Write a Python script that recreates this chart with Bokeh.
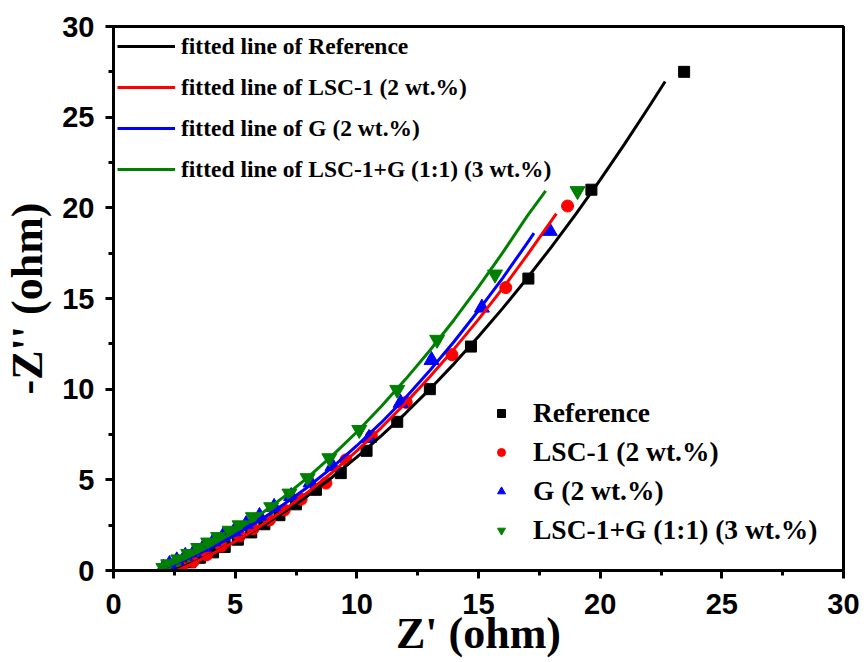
from bokeh.plotting import figure
from bokeh.models import Legend, LegendItem, FixedTicker, Range1d
from bokeh.embed import file_html
from bokeh.resources import INLINE

# ---- data (Z', -Z'') ----
ref_z1 = [2.45, 2.73, 3.14, 3.55, 4.09, 4.57, 5.11, 5.66, 6.20, 6.82, 7.50, 8.32, 9.34, 10.40, 11.66, 13.00, 14.69, 17.05, 19.64, 23.45]
ref_z2 = [0.05, 0.22, 0.45, 0.70, 1.00, 1.30, 1.70, 2.10, 2.55, 3.05, 3.65, 4.45, 5.37, 6.60, 8.20, 10.00, 12.35, 16.10, 21.00, 27.50]

lsc_z1 = [2.55, 2.80, 3.27, 3.82, 4.43, 5.18, 5.73, 6.41, 7.02, 7.71, 8.73, 9.55, 10.60, 12.03, 13.91, 16.12, 18.66]
lsc_z2 = [0.12, 0.21, 0.49, 0.86, 1.35, 1.90, 2.30, 2.79, 3.34, 3.93, 4.82, 6.10, 7.40, 9.27, 11.90, 15.60, 20.10]

g_z1 = [2.05, 2.30, 2.60, 2.95, 3.30, 3.70, 4.10, 4.50, 4.95, 5.45, 6.00, 6.60, 7.30, 8.10, 9.00, 10.50, 11.80, 13.07, 15.14, 17.93]
g_z2 = [0.15, 0.35, 0.55, 0.80, 1.00, 1.30, 1.60, 1.90, 2.15, 2.55, 3.00, 3.50, 4.10, 4.85, 5.75, 7.30, 9.24, 11.60, 14.49, 18.72]

mix_z1 = [2.05, 2.25, 2.66, 3.07, 3.48, 3.89, 4.30, 4.77, 5.18, 5.73, 6.48, 7.23, 7.98, 8.87, 10.10, 11.66, 13.30, 15.68, 19.07]
mix_z2 = [0.15, 0.35, 0.62, 0.92, 1.25, 1.55, 1.85, 2.20, 2.50, 2.95, 3.50, 4.25, 5.10, 6.20, 7.76, 9.97, 12.73, 16.33, 20.93]

fit_ref_x = [2.5, 3, 4, 5, 6, 7, 8, 9, 10, 11, 12, 13, 14, 15, 16, 17, 18, 19, 20, 21, 22, 22.67]
fit_ref_y = [0.0, 0.28, 0.89, 1.59, 2.36, 3.21, 4.14, 5.16, 6.25, 7.42, 8.67, 10.0, 11.41, 12.90, 14.47, 16.12, 17.85, 19.65, 21.54, 23.51, 25.56, 26.97]
fit_lsc_x = [2.6, 3, 4, 5, 6, 7, 8, 9, 10, 11, 12, 13, 14, 15, 16, 17, 18.2]
fit_lsc_y = [0.0, 0.23, 0.87, 1.60, 2.42, 3.33, 4.33, 5.42, 6.60, 7.87, 9.23, 10.68, 12.22, 13.85, 15.57, 17.39, 19.68]
fit_g_x = [2.0, 3, 4, 5, 6, 7, 8, 9, 10, 11, 12, 13, 14, 15, 16, 17, 17.28]
fit_g_y = [0.1, 0.62, 1.25, 1.95, 2.75, 3.65, 4.62, 5.70, 6.88, 8.15, 9.53, 11.03, 12.63, 14.34, 16.14, 18.05, 18.60]
fit_mix_x = [2.0, 3, 4, 5, 6, 7, 8, 9, 10, 11, 12, 13, 14, 15, 16, 17, 17.76]
fit_mix_y = [0.1, 0.69, 1.38, 2.17, 3.06, 4.06, 5.15, 6.35, 7.64, 9.04, 10.54, 12.13, 13.83, 15.64, 17.54, 19.54, 20.93]

major_ticks = [0, 5, 10, 15, 20, 25, 30]
minor_ticks = [2.5, 7.5, 12.5, 17.5, 22.5, 27.5]

names = ["Reference", "LSC-1 (2 wt.%)", "G (2 wt.%)", "LSC-1+G (1:1) (3 wt.%)"]
fit_names = ["fitted line of Reference", "fitted line of LSC-1 (2 wt.%)",
             "fitted line of G (2 wt.%)", "fitted line of LSC-1+G (1:1) (3 wt.%)"]
colors = ["#000000", "#ff0000", "#0000ff", "#008000"]

p = figure(width=862, height=660, x_range=Range1d(0, 30), y_range=Range1d(0, 30),
           output_backend="svg", toolbar_location=None,
           min_border_left=107, min_border_right=19, min_border_top=26, min_border_bottom=88)
p.background_fill_color = "white"
p.border_fill_color = "white"
p.xgrid.visible = False
p.ygrid.visible = False
p.outline_line_color = "black"
p.outline_line_width = 3
p.outline_line_alpha = 1.0

for ax in (p.xaxis[0], p.yaxis[0]):
    ax.ticker = FixedTicker(ticks=major_ticks, minor_ticks=minor_ticks)
    ax.axis_line_width = 3
    ax.major_tick_line_width = 3
    ax.minor_tick_line_width = 3
    ax.major_tick_out = 8
    ax.major_tick_in = 0
    ax.minor_tick_out = 5
    ax.minor_tick_in = 0
    ax.major_label_text_font = "Liberation Sans"
    ax.major_label_text_font_style = "bold"
    ax.major_label_text_font_size = "29px"
    ax.major_label_text_color = "black"
    ax.axis_label_text_font = "Liberation Serif"
    ax.axis_label_text_font_style = "bold"
    ax.axis_label_text_font_size = "44px"
    ax.axis_label_text_color = "black"

p.xaxis.axis_label = "Z' (ohm)"
p.yaxis.axis_label = "-Z'' (ohm)"
p.xaxis.major_label_standoff = 15
p.yaxis.major_label_standoff = 11
p.xaxis.axis_label_standoff = -8
p.yaxis.axis_label_standoff = 7

# markers
r_ref = p.scatter(ref_z1, ref_z2, marker="square", size=11, color=colors[0])
r_lsc = p.scatter(lsc_z1, lsc_z2, marker="circle", size=12, color=colors[1])
r_g = p.scatter(g_z1, g_z2, marker="triangle", size=15, color=colors[2])
r_mix = p.scatter(mix_z1, mix_z2, marker="inverted_triangle", size=15, color=colors[3])

# fitted lines
l_ref = p.line(fit_ref_x, fit_ref_y, line_width=3, color=colors[0])
l_lsc = p.line(fit_lsc_x, fit_lsc_y, line_width=3, color=colors[1])
l_g = p.line(fit_g_x, fit_g_y, line_width=3, color=colors[2])
l_mix = p.line(fit_mix_x, fit_mix_y, line_width=3, color=colors[3])

leg1 = Legend(items=[LegendItem(label=n, renderers=[r]) for n, r in
                     zip(fit_names, [l_ref, l_lsc, l_g, l_mix])],
              location="top_left")
leg1.margin = 0
leg1.padding = 4
leg1.spacing = 9
leg1.glyph_width = 58
leg1.glyph_height = 32
leg1.label_height = 32
leg1.label_standoff = 6
leg1.label_text_font = "Liberation Serif"
leg1.label_text_font_style = "bold"
leg1.label_text_font_size = "23.5px"
leg1.label_text_color = "black"
leg1.border_line_alpha = 0
leg1.background_fill_alpha = 0

leg2 = Legend(items=[LegendItem(label=n, renderers=[r]) for n, r in
                     zip(names, [r_ref, r_lsc, r_g, r_mix])],
              location=(373, 19))
leg2.margin = 0
leg2.padding = 5
leg2.spacing = 7
leg2.glyph_width = 20
leg2.glyph_height = 30
leg2.label_height = 30
leg2.label_standoff = 22
leg2.label_text_font = "Liberation Serif"
leg2.label_text_font_style = "bold"
leg2.label_text_font_size = "27.5px"
leg2.label_text_color = "black"
leg2.border_line_alpha = 0
leg2.background_fill_alpha = 0

p.add_layout(leg1)
p.add_layout(leg2)

open("out.html", "w").write(file_html(p, INLINE))
